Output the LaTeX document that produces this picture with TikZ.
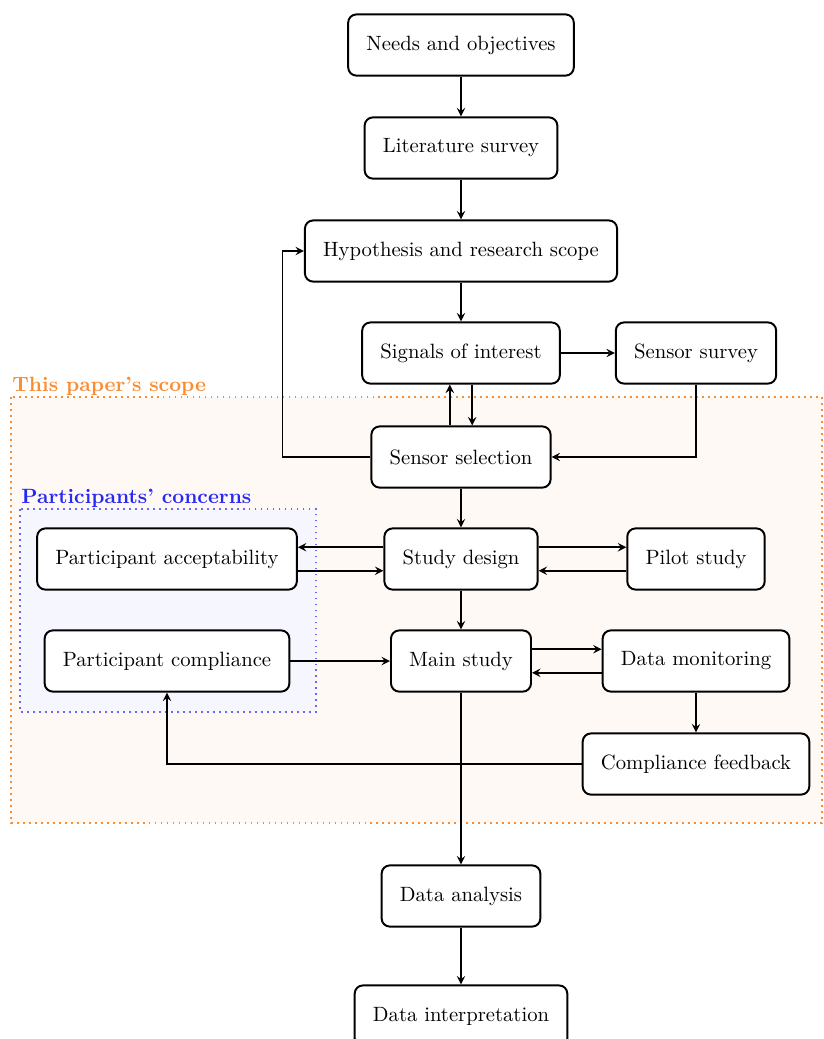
\documentclass[tikz,border=0pt]{standalone}
\usepackage{tikz}
\usetikzlibrary{arrows}

\definecolor{scopeorange}{RGB}{250,140,50}
\definecolor{concernblue}{RGB}{40,40,245}

\tikzset{
  stage/.style={draw, rounded corners=0.14cm, line width=0.95pt, minimum height=1.04cm, inner xsep=0.31cm, fill=white},
  flow/.style={->, line width=0.8pt},
}

\begin{document}
\begin{tikzpicture}[>=stealth, x=0.017cm, y=-0.017cm]
  \useasboundingbox (0,0) rectangle (824,1039);
  % shaded regions
  \draw[scopeorange, dotted, line width=0.9pt, fill=scopeorange!5] (11,397) rectangle (822,823);
  \node[anchor=base west, inner sep=0pt, text=scopeorange, font=\bfseries] (scopelbl) at (12,391) {This paper's scope};
  \draw[concernblue!70, dotted, line width=0.9pt, fill=concernblue!4] (20,509) rectangle (316,712);
  \node[anchor=base west, inner sep=0pt, text=concernblue, font=\bfseries] (concernlbl) at (21,503) {Participants' concerns};

  % stages
  \node[stage] (needs) at (461,45) {Needs and objectives};
  \node[stage] (lit) at (461,148) {Literature survey};
  \node[stage] (hyp) at (461,251) {Hypothesis and research scope};
  \node[stage] (signals) at (461,353) {Signals of interest};
  \node[stage] (survey) at (696,353) {Sensor survey};
  \node[stage] (sel) at (461,457) {Sensor selection};
  \node[stage] (design) at (461,559) {Study design};
  \node[stage] (pilot) at (696,559) {Pilot study};
  \node[stage] (accept) at (167,559) {Participant acceptability};
  \node[stage] (comply) at (167,661) {Participant compliance};
  \node[stage] (main) at (461,661) {Main study};
  \node[stage] (monitor) at (696,661) {Data monitoring};
  \node[stage] (feedback) at (696,764) {Compliance feedback};
  \node[stage] (analysis) at (461,896) {Data analysis};
  \node[stage] (interp) at (461,1016) {Data interpretation};

  % connectors
  \draw[flow] (needs) -- (lit);
  \draw[flow] (lit) -- (hyp);
  \draw[flow] (hyp) -- (signals);
  \draw[flow] (signals) -- (survey);
  \draw[flow] (survey.south) |- (sel.east);
  \draw[flow] ([xshift=0.19cm]signals.south) -- ([xshift=0.19cm]signals.south |- sel.north);
  \draw[flow] ([xshift=-0.19cm]signals.south |- sel.north) -- ([xshift=-0.19cm]signals.south);
  \draw[flow] (sel.west) -- ++(-88,0) |- (hyp.west);
  \draw[flow] (sel) -- (design);
  \draw[flow] ([yshift=0.2cm]design.west) -- ([yshift=0.2cm]design.west -| accept.east);
  \draw[flow] ([yshift=-0.2cm]design.west -| accept.east) -- ([yshift=-0.2cm]design.west);
  \draw[flow] ([yshift=0.2cm]design.east) -- ([yshift=0.2cm]design.east -| pilot.west);
  \draw[flow] ([yshift=-0.2cm]design.east -| pilot.west) -- ([yshift=-0.2cm]design.east);
  \draw[flow] (design) -- (main);
  \draw[flow] (comply) -- (main);
  \draw[flow] ([yshift=0.2cm]main.east) -- ([yshift=0.2cm]main.east -| monitor.west);
  \draw[flow] ([yshift=-0.2cm]main.east -| monitor.west) -- ([yshift=-0.2cm]main.east);
  \draw[flow] (monitor) -- (feedback);
  \draw[flow] (feedback.west) -| (comply.south);
  \draw[flow] (main) -- (analysis);
  \draw[flow] (analysis) -- (interp);
\end{tikzpicture}
\end{document}
